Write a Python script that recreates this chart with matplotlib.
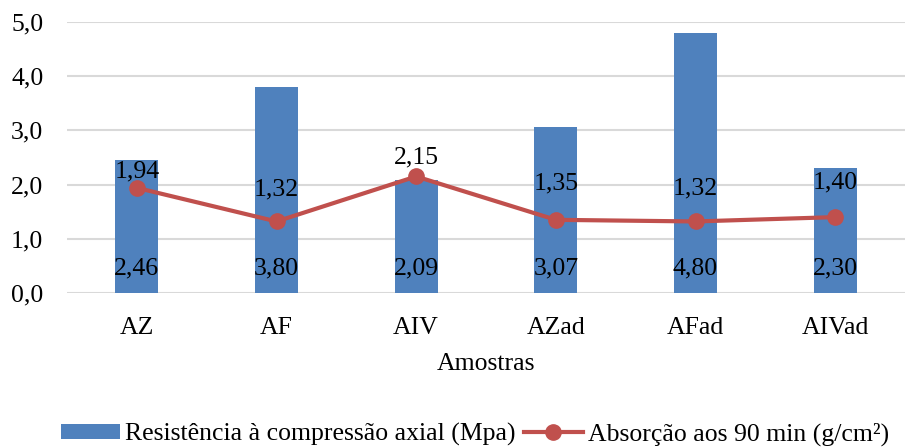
import matplotlib.pyplot as plt
import numpy as np

amostras = ["AZ", "AF", "AIV", "AZad", "AFad", "AIVad"]
resistencia = [2.46, 3.80, 2.09, 3.07, 4.80, 2.30]
absorcao = [1.94, 1.32, 2.15, 1.35, 1.32, 1.40]
# vertical shift of each line label above its point (points)
offset_rotulos = [11.5, 23, 14, 26.5, 24, 25]

plt.rcParams["font.family"] = ["Liberation Serif", "DejaVu Serif"]
fs = 18.5

fig = plt.figure(figsize=(9.05, 4.48), dpi=100)
ax = fig.add_axes([67 / 905, 1 - 293 / 448, 1 - 67 / 905, (293 - 22) / 448])

x = np.arange(len(amostras))
bars = ax.bar(x, resistencia, width=0.31, color="#4F81BD", zorder=2,
              label="Resistência à compressão axial (Mpa)")
linha, = ax.plot(x, absorcao, color="#C0504D", linewidth=3, marker="o", markersize=11,
                 zorder=3, label="Absorção aos 90 min (g/cm²)")

for xi, v in zip(x, resistencia):
    ax.annotate(f"{v:.2f}".replace(".", ","), (xi, 0), xytext=(0, 18),
                textcoords="offset points", ha="center", va="center", fontsize=fs)
for xi, v, off in zip(x, absorcao, offset_rotulos):
    ax.annotate(f"{v:.2f}".replace(".", ","), (xi, v), xytext=(0, off),
                textcoords="offset points", ha="center", va="center", fontsize=fs)

ax.set_xlim(-0.5, len(amostras) - 0.5)
ax.set_ylim(0, 5)
yt = np.arange(0, 5.1, 1)
ax.set_yticks(yt)
ax.set_yticklabels([f"{t:.1f}".replace(".", ",") for t in yt], fontsize=fs)
ax.set_xticks(x)
ax.set_xticklabels(amostras, fontsize=fs)
ax.tick_params(axis="x", length=0, pad=17)
ax.tick_params(axis="y", length=0, pad=17)
ax.grid(axis="y", color="#D9D9D9", linewidth=1.5, zorder=0)
ax.set_axisbelow(True)
for s in ax.spines.values():
    s.set_visible(False)
ax.set_xlabel("Amostras", fontsize=fs, labelpad=10)

fig.legend([bars, linha], [bars.get_label(), linha.get_label()],
           loc="lower center", bbox_to_anchor=(0.525, -0.047), ncol=2, frameon=False,
           fontsize=fs, handlelength=2.3, handleheight=0.55, columnspacing=0.3,
           handletextpad=0.2)

fig.savefig("out.png", dpi=100)
